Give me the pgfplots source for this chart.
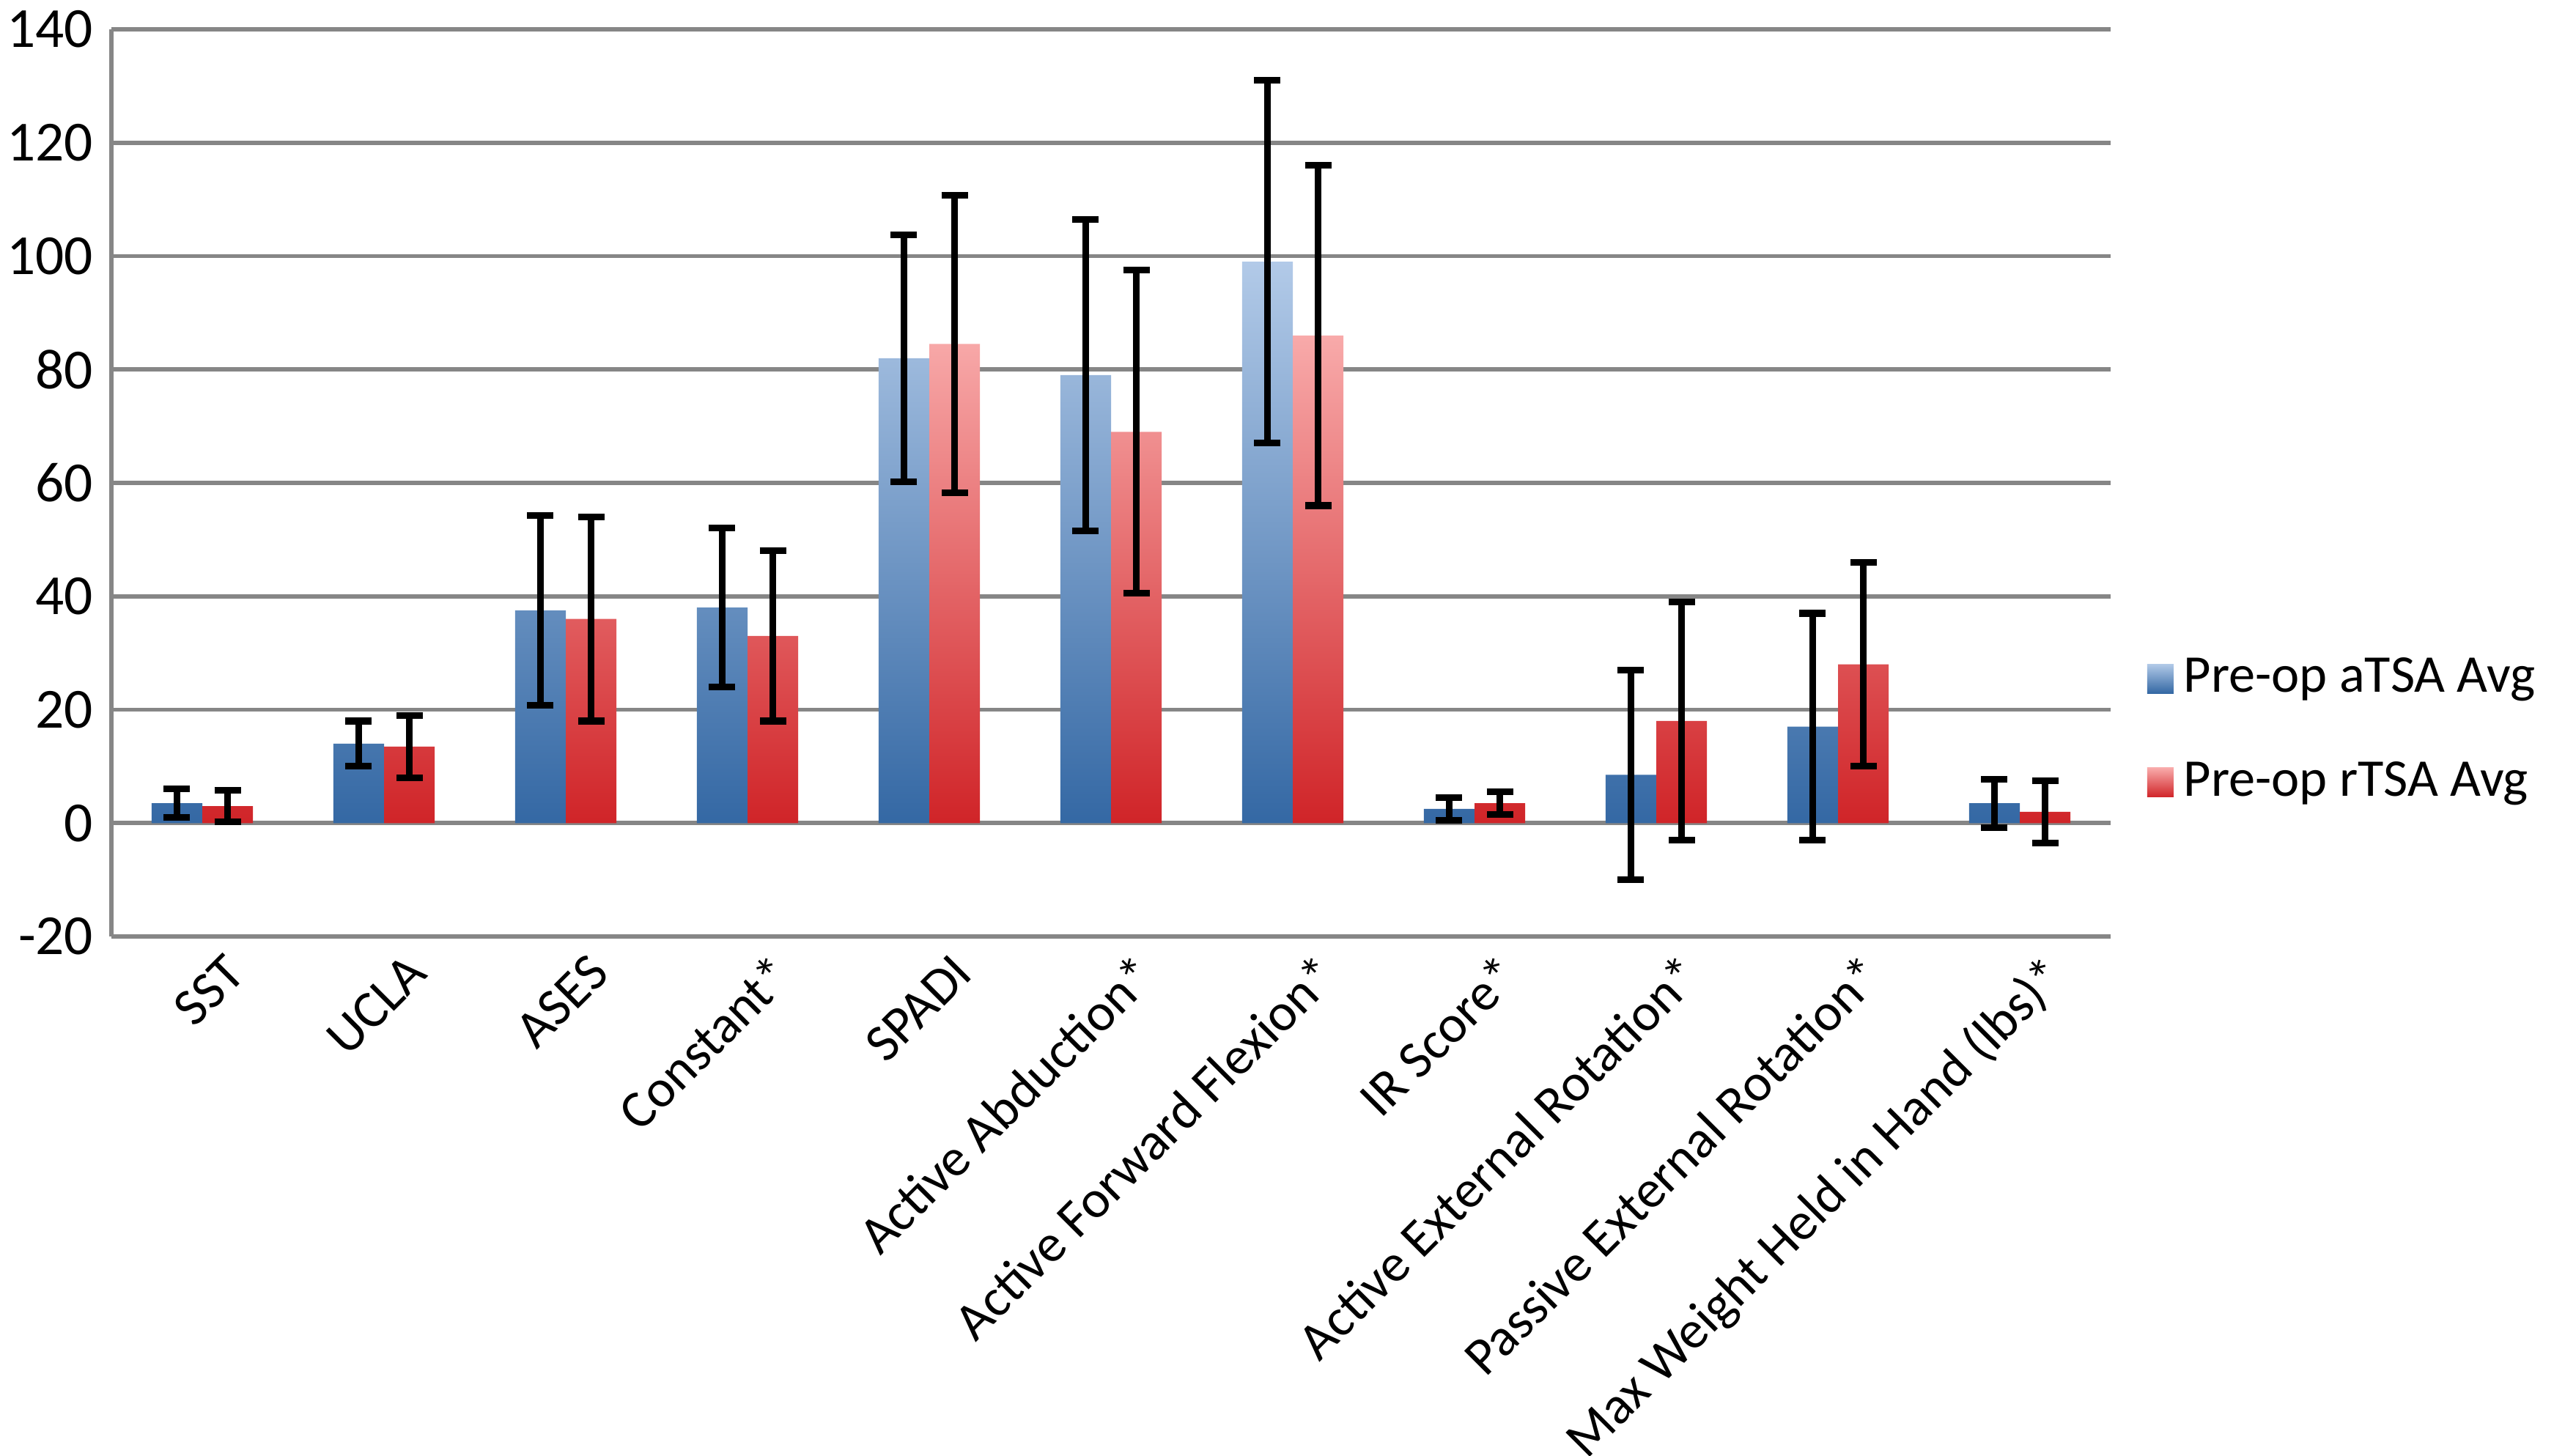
\documentclass[border=0pt]{standalone}
\usepackage{pgfplots}
\pgfplotsset{compat=1.18}
\usepackage{fontspec}
\setmainfont{Carlito}
\definecolor{gridc}{HTML}{868686}
\begin{document}
\fontsize{10}{12}\selectfont
\begin{tikzpicture}
\begin{axis}[
  scale only axis, width=13.64cm, height=6.19cm,
  ymin=-20, ymax=140, ytick={-20,0,...,140},
  xmin=-0.5, xmax=10.5, xtick={0,...,10},
  xticklabels={SST,UCLA,ASES,Constant*,SPADI,Active Abduction*,Active Forward Flexion*,IR Score*,Active External Rotation*,Passive External Rotation*,Max Weight Held in Hand (lbs)*},
  x tick label style={rotate=45, anchor=north east, font=\fontsize{10.3}{12}\selectfont, xshift=0.15cm, yshift=-0.05cm},
  y tick label style={font=\fontsize{11}{13}\selectfont},
  /pgf/number format/assume math mode=true,
  ymajorgrids, grid style={gridc, line width=0.8pt},
  axis x line*=bottom, axis y line*=left,
  axis line style={gridc, line width=0.8pt, -},
  major tick length=0pt,
  ybar=0pt, bar width=0.346cm,
  legend style={at={(1.01,0.227)}, anchor=west, draw=none, font=\fontsize{10.3}{12}\selectfont, row sep=8pt},
  legend cell align=left,
  legend image code/.code={\fill[#1] (0cm,-0.1cm) rectangle (0.18cm,0.1cm);},
  error bars/error bar style={black, line width=1.3pt},
  error bars/error mark options={black, line width=1.3pt, rotate=90, mark size=0.09cm},
]
\addplot[draw=none, top color={rgb,255:red,178;green,202;blue,232}, bottom color={rgb,255:red,52;green,104;blue,164},
  error bars/.cd, y dir=both, y explicit]
coordinates {
(0,3.5) +- (0,2.5)
(1,14) +- (0,4)
(2,37.5) +- (0,16.75)
(3,38) +- (0,14)
(4,82) +- (0,21.75)
(5,79) +- (0,27.5)
(6,99) +- (0,32)
(7,2.5) +- (0,2)
(8,8.5) +- (0,18.5)
(9,17) +- (0,20)
(10,3.5) +- (0,4.25)
};
\addlegendentry{Pre-op aTSA Avg}
\addplot[draw=none, top color={rgb,255:red,248;green,170;blue,170}, bottom color={rgb,255:red,208;green,36;blue,40},
  error bars/.cd, y dir=both, y explicit]
coordinates {
(0,3) +- (0,2.75)
(1,13.5) +- (0,5.5)
(2,36) +- (0,18)
(3,33) +- (0,15)
(4,84.5) +- (0,26.25)
(5,69) +- (0,28.5)
(6,86) +- (0,30)
(7,3.5) +- (0,2)
(8,18) +- (0,21)
(9,28) +- (0,18)
(10,2) +- (0,5.5)
};
\addlegendentry{Pre-op rTSA Avg}
\end{axis}
\pgfresetboundingbox
\path (-0.76cm,-3.54cm) rectangle (16.74cm,6.39cm);
\end{tikzpicture}
\end{document}
